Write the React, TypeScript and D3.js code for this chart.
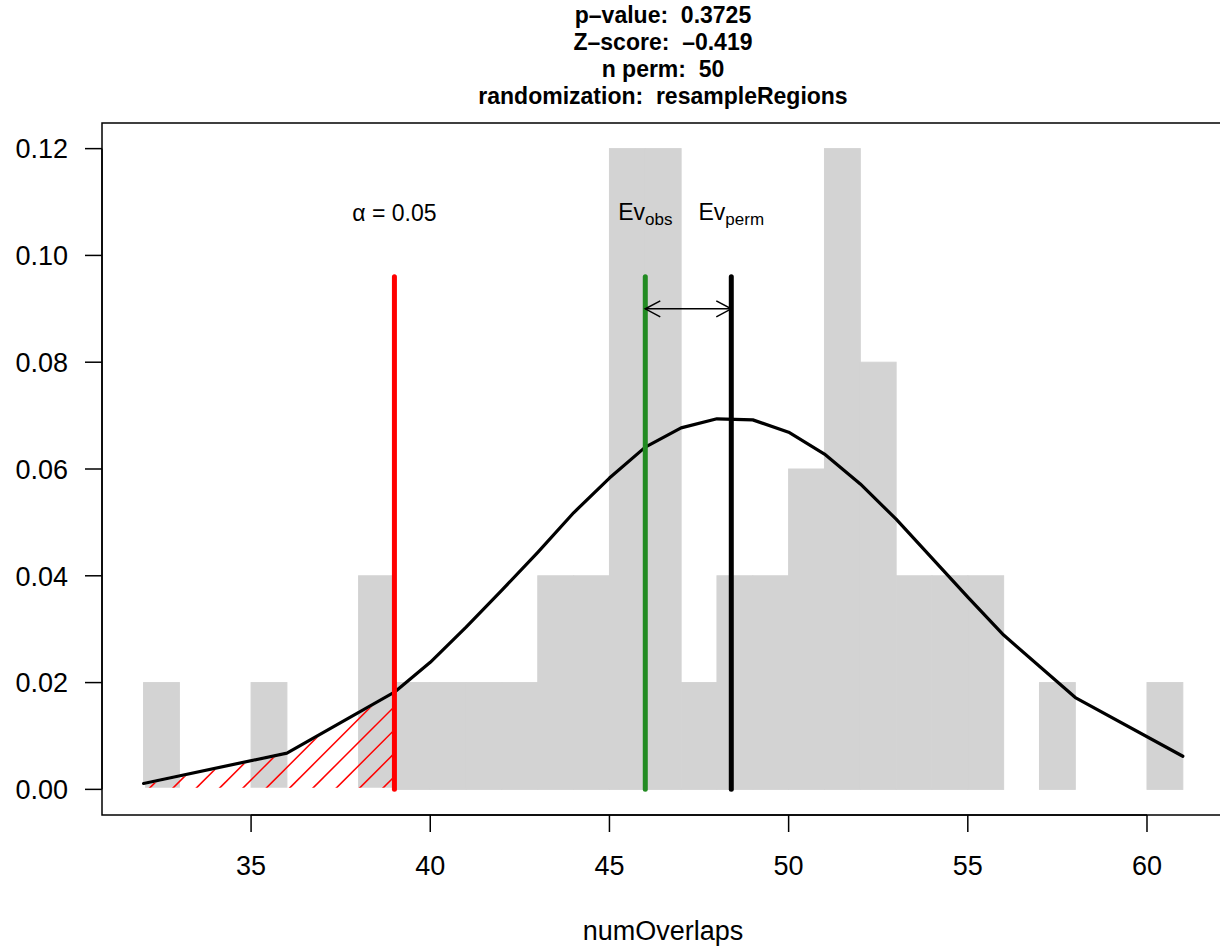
import React from 'react';
import * as d3 from 'd3';

// ---- data ----
const titleLines = [
  'p\u2013value:  0.3725',
  'Z\u2013score:  \u20130.419',
  'n perm:  50',
  'randomization:  resampleRegions',
];
const binStarts = [32, 33, 34, 35, 36, 37, 38, 39, 40, 41, 42, 43, 44, 45, 46, 47, 48, 49, 50, 51, 52, 53, 54, 55, 56, 57, 58, 59, 60];
const binDensity = [0.02, 0, 0, 0.02, 0, 0, 0.04, 0.02, 0.02, 0.02, 0.02, 0.04, 0.04, 0.12, 0.12, 0.02, 0.04, 0.04, 0.06, 0.12, 0.08, 0.04, 0.04, 0.04, 0, 0.02, 0, 0, 0.02];
const curveX = [32, 36, 39, 40, 41, 42, 43, 44, 45, 46, 47, 48, 49, 50, 51, 52, 53, 55, 56, 58, 61];
const curveY = [0.0011, 0.0068, 0.0182, 0.0238, 0.0304, 0.0373, 0.0444, 0.0518, 0.0583, 0.0641, 0.0677, 0.0694, 0.0692, 0.0669, 0.0628, 0.0572, 0.0506, 0.0360, 0.0289, 0.0172, 0.0062];
const xTicks = [35, 40, 45, 50, 55, 60];
const yTicks = [0, 0.02, 0.04, 0.06, 0.08, 0.1, 0.12];
const alphaValue = 39;
const evObs = 46;
const evPerm = 48.4;
const lineTop = 0.096;
const labelY = 0.108;
const arrowY = 0.09;

const FONT = '"Liberation Sans", Arial, Helvetica, sans-serif';

export default function App() {
  const x = d3.scaleLinear().domain([30.84, 62.16]).range([102, 1224.4]);
  const y = d3.scaleLinear().domain([-0.0048, 0.1248]).range([815, 123]);

  const pts: [number, number][] = curveX.map((v, i) => [x(v), y(curveY[i])]);
  const line = d3.line<[number, number]>();

  // hatched polygon under curve up to alpha
  const polyPts: [number, number][] = [];
  curveX.forEach((v, i) => {
    if (v <= alphaValue) polyPts.push([x(v), y(curveY[i])]);
  });
  polyPts.push([x(alphaValue), y(0)]);
  polyPts.push([x(curveX[0]), y(0)]);
  const polyD = line(polyPts) + 'Z';

  const hatchSpacing = 23.33;
  const hatch = d3.range(-12, 20).map((k) => {
    const x0 = 148.3 + k * hatchSpacing;
    return `M${x0},${y(0)}L${x0 + 400},${y(0) - 400}`;
  });

  const yA = y(arrowY);
  const ah = 15, aw = 8;
  const xo = x(evObs), xp = x(evPerm);

  return (
    <svg width={1220} height={947} style={{ position: 'absolute', left: 0, top: 0, background: '#fff', overflow: 'hidden' }} fontFamily={FONT}>
      <rect x={0} y={0} width={1220} height={947} fill="#fff" />
      <defs>
        <clipPath id="hatchClip">
          <path d={polyD} />
        </clipPath>
        <clipPath id="plotClip">
          <rect x={102} y={123} width={1122.4} height={692} />
        </clipPath>
      </defs>
      {/* title */}
      {titleLines.map((t, i) => (
        <text key={i} x={663} y={23 + i * 27} textAnchor="middle" fontWeight="bold" fontSize={23} style={{ whiteSpace: 'pre' }}>
          {t}
        </text>
      ))}
      {/* histogram */}
      <g clipPath="url(#plotClip)">
        {binStarts.map((b, i) => (
          <rect
            key={b}
            x={x(b)}
            width={x(b + 1) - x(b)}
            y={y(binDensity[i])}
            height={y(0) - y(binDensity[i])}
            fill="#D3D3D3"
            stroke="#D3D3D3"
            strokeWidth={1}
          />
        ))}
        {/* hatching */}
        <g clipPath="url(#hatchClip)">
          {hatch.map((d, i) => (
            <path key={i} d={d} stroke="#FF0000" strokeWidth={1.5} fill="none" />
          ))}
        </g>
        <path d={polyD} fill="none" stroke="#fff" strokeWidth={3} />
        {/* curve */}
        <path d={line(pts) || ''} fill="none" stroke="#000" strokeWidth={3.2} strokeLinejoin="round" strokeLinecap="round" />
        {/* vertical lines */}
        <line x1={x(alphaValue)} x2={x(alphaValue)} y1={y(0)} y2={y(lineTop)} stroke="#FF0000" strokeWidth={5} strokeLinecap="round" />
        <line x1={xo} x2={xo} y1={y(0)} y2={y(lineTop)} stroke="#228B22" strokeWidth={5} strokeLinecap="round" />
        <line x1={xp} x2={xp} y1={y(0)} y2={y(lineTop)} stroke="#000" strokeWidth={5} strokeLinecap="round" />
        {/* arrow */}
        <g stroke="#000" strokeWidth={1.5} fill="none">
          <line x1={xo} x2={xp} y1={yA} y2={yA} />
          <path d={`M${xo + ah},${yA - aw}L${xo},${yA}L${xo + ah},${yA + aw}`} />
          <path d={`M${xp - ah},${yA - aw}L${xp},${yA}L${xp - ah},${yA + aw}`} />
        </g>
        {/* labels */}
        <text x={x(alphaValue)} y={y(labelY)} dy="0.36em" textAnchor="middle" fontSize={23} style={{ whiteSpace: 'pre' }}>
          <tspan>α</tspan>
          <tspan> = </tspan>
          <tspan>0.05</tspan>
        </text>
        <text x={xo} y={y(labelY)} dy="0.3em" textAnchor="middle" fontSize={23}>
          <tspan>Ev</tspan>
          <tspan fontSize={17} dy={5}>obs</tspan>
        </text>
        <text x={xp} y={y(labelY)} dy="0.3em" textAnchor="middle" fontSize={23}>
          <tspan>Ev</tspan>
          <tspan fontSize={17} dy={5}>perm</tspan>
        </text>
      </g>
      {/* box */}
      <rect x={102} y={123} width={1122.4} height={692} fill="none" stroke="#000" strokeWidth={1.5} />
      {/* x axis */}
      <g stroke="#000" strokeWidth={1.5}>
        <line x1={x(xTicks[0])} x2={x(xTicks[xTicks.length - 1])} y1={815} y2={815} />
        {xTicks.map((t) => (
          <line key={t} x1={x(t)} x2={x(t)} y1={815} y2={832} />
        ))}
      </g>
      {xTicks.map((t) => (
        <text key={t} x={x(t)} y={875} textAnchor="middle" fontSize={27}>
          {t}
        </text>
      ))}
      {/* y axis */}
      <g stroke="#000" strokeWidth={1.5}>
        <line x1={102} x2={102} y1={y(0)} y2={y(0.12)} />
        {yTicks.map((t) => (
          <line key={t} x1={85} x2={102} y1={y(t)} y2={y(t)} />
        ))}
      </g>
      {yTicks.map((t) => (
        <text key={t} x={68} y={y(t)} dy="0.36em" textAnchor="end" fontSize={27}>
          {d3.format('.2f')(t)}
        </text>
      ))}
      <text x={663} y={940} textAnchor="middle" fontSize={27}>
        numOverlaps
      </text>
    </svg>
  );
}
